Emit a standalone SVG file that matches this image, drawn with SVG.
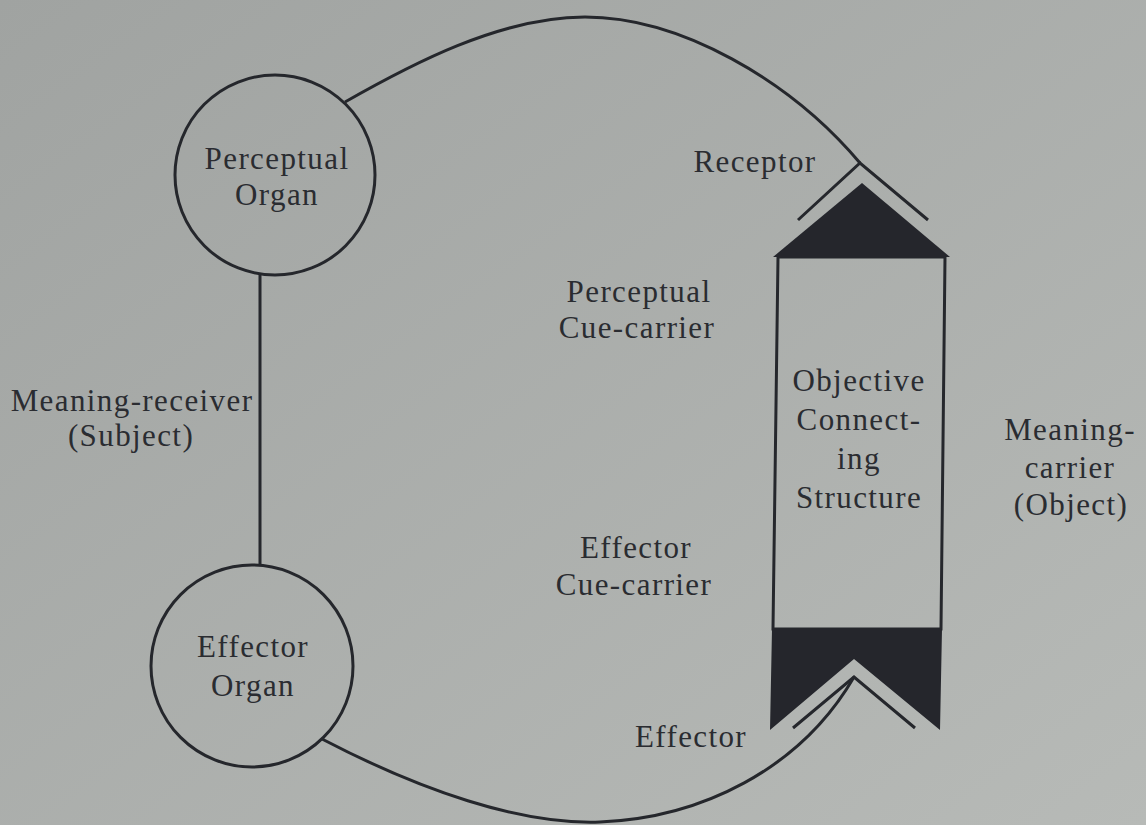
<svg xmlns="http://www.w3.org/2000/svg" width="1146" height="825" viewBox="0 0 1146 825">
<defs>
<linearGradient id="bg" x1="0" y1="0" x2="1" y2="1">
<stop offset="0" stop-color="#a0a3a1"/>
<stop offset="1" stop-color="#b7bab7"/>
</linearGradient>
<style>
.ln{fill:none;stroke:#25272c;stroke-width:3}
.blk{fill:#25262c;stroke:none}
.t{font-family:"Liberation Serif","Times New Roman",serif;font-size:31px;letter-spacing:1.4px;fill:#2a2c31;text-anchor:middle}
</style>
</defs>
<rect width="1146" height="825" fill="url(#bg)"/>
<g id="connectors">
<path class="ln" d="M345,102 C410,65 500,17 585,17 C680,17 790,80 860,163"/>
<path class="ln" d="M322,739 C420,790 520,825 600,822 C700,818 800,770 854,677"/>
<line class="ln" x1="260" y1="274" x2="260" y2="565"/>
</g>
<g id="perceptual-organ">
<circle class="ln" cx="275" cy="175" r="100"/>
<text class="t" x="277" y="169">Perceptual</text>
<text class="t" x="277" y="205">Organ</text>
</g>
<g id="effector-organ">
<circle class="ln" cx="252" cy="666" r="101"/>
<text class="t" x="253" y="657">Effector</text>
<text class="t" x="253" y="696">Organ</text>
</g>
<g id="meaning-receiver">
<text class="t" x="132" y="411">Meaning-receiver</text>
<text class="t" x="131" y="446">(Subject)</text>
</g>
<g id="objective-connecting-structure">
<polygon points="778,257 945,257 941,629 773,629" fill="none" stroke="#25272c" stroke-width="3"/>
<polygon class="blk" points="862,183 950,257 773,257"/>
<polygon class="blk" points="772,629 942,629 940,730 854,659 770,730"/>
<text class="t" x="859" y="391">Objective</text>
<text class="t" x="859" y="430">Connect-</text>
<text class="t" x="859" y="469">ing</text>
<text class="t" x="859" y="508">Structure</text>
</g>
<g id="receptor">
<polyline class="ln" points="798,220 860,163 928,220"/>
<text class="t" x="755" y="172">Receptor</text>
</g>
<g id="effector">
<polyline class="ln" points="793,728 854,677 915,728"/>
<text class="t" x="691" y="747">Effector</text>
</g>
<g id="perceptual-cue-carrier">
<text class="t" x="639" y="302">Perceptual</text>
<text class="t" x="637" y="338">Cue-carrier</text>
</g>
<g id="effector-cue-carrier">
<text class="t" x="636" y="558">Effector</text>
<text class="t" x="634" y="595">Cue-carrier</text>
</g>
<g id="meaning-carrier">
<text class="t" x="1070" y="440">Meaning-</text>
<text class="t" x="1070" y="478">carrier</text>
<text class="t" x="1071" y="515">(Object)</text>
</g>
</svg>
